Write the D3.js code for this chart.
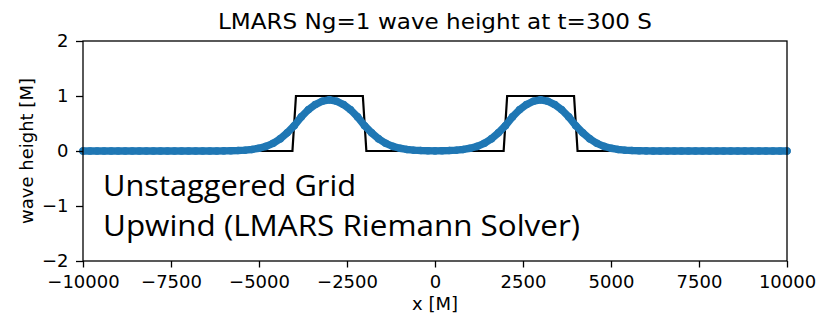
<!DOCTYPE html>
<html><head><meta charset="utf-8">
<script src="https://cdn.jsdelivr.net/npm/d3@7"></script>
<style>body{margin:0;background:#fff;} svg{display:block;}</style>
</head><body>
<svg id="chart" width="821" height="320"></svg>
<script>
// ---- data ----
const titleText = "LMARS Ng=1 wave height at t=300 S";
const xLabel = "x [M]";
const yLabel = "wave height [M]";
const noteLines = ["Unstaggered Grid", "Upwind (LMARS Riemann Solver)"];
const xTicks = [-10000, -7500, -5000, -2500, 0, 2500, 5000, 7500, 10000];
const yTicks = [-2, -1, 0, 1, 2];

// exact solution (black)
const exactX = [-10000, -4050, -3950, -2050, -1950, 1950, 2050, 3950, 4050, 10000];
const exactH = [0, 0, 1, 1, 0, 0, 1, 1, 0, 0];

// numerical solution (blue markers)
const numX = [-10000,-9800,-9600,-9400,-9200,-9000,-8800,-8600,-8400,-8200,
  -8000,-7800,-7600,-7400,-7200,-7000,-6800,-6600,-6400,-6200,
  -6000,-5800,-5600,-5400,-5200,-5000,-4800,-4600,-4400,-4200,
  -4000,-3800,-3600,-3400,-3200,-3000,-2800,-2600,-2400,-2200,
  -2000,-1800,-1600,-1400,-1200,-1000,-800,-600,-400,-200,
  0,200,400,600,800,1000,1200,1400,1600,1800,
  2000,2200,2400,2600,2800,3000,3200,3400,3600,3800,
  4000,4200,4400,4600,4800,5000,5200,5400,5600,5800,
  6000,6200,6400,6600,6800,7000,7200,7400,7600,7800,
  8000,8200,8400,8600,8800,9000,9200,9400,9600,9800,10000];
const numH = [0,0,0,0,0,0,0,0,0,0,
  0,0,0,0,0,0,0,0,0,0.001,
  0.002,0.004,0.008,0.015,0.028,0.05,0.085,0.14,0.22,0.33,
  0.46,0.62,0.75,0.845,0.905,0.93,0.905,0.845,0.75,0.62,
  0.46,0.33,0.22,0.14,0.085,0.05,0.028,0.015,0.008,0.004,
  0.002,0.004,0.008,0.015,0.028,0.05,0.085,0.14,0.22,0.33,
  0.46,0.62,0.75,0.845,0.905,0.93,0.905,0.845,0.75,0.62,
  0.46,0.33,0.22,0.14,0.085,0.05,0.028,0.015,0.008,0.004,
  0.002,0.001,0,0,0,0,0,0,0,0,
  0,0,0,0,0,0,0,0,0,0,0];

// ---- layout ----
const svg = d3.select("#chart");
const L = 83, R = 787, T = 41, B = 261;
const x = d3.scaleLinear().domain([-10000, 10000]).range([L, R]);
const y = d3.scaleLinear().domain([-2, 2]).range([B, T]);
const font = "'DejaVu Sans', sans-serif";

// exact
const exact = exactX.map((v, i) => [v, exactH[i]]);
svg.append("path").datum(exact)
  .attr("d", d3.line().x(d => x(d[0])).y(d => y(d[1])))
  .attr("fill", "none").attr("stroke", "#000").attr("stroke-width", 2.2)
  .attr("stroke-linejoin", "miter");

// numerical
const num = numX.map((v, i) => [v, numH[i]]);
const blue = "#1f77b4";
svg.append("path").datum(num)
  .attr("d", d3.line().x(d => x(d[0])).y(d => y(d[1])))
  .attr("fill", "none").attr("stroke", blue).attr("stroke-width", 7.4)
  .attr("stroke-linejoin", "round").attr("stroke-linecap", "round");
svg.append("g").selectAll("circle").data(num).join("circle")
  .attr("cx", d => x(d[0])).attr("cy", d => y(d[1])).attr("r", 3.8)
  .attr("fill", blue);

// axes
const fmt = d => d < 0 ? "\u2212" + Math.abs(d) : String(d);
const xAxis = d3.axisBottom(x).tickValues(xTicks).tickSize(6.5).tickPadding(7.5).tickFormat(fmt);
const gx = svg.append("g").attr("transform", `translate(0,${B})`).call(xAxis);
const yAxis = d3.axisLeft(y).tickValues(yTicks).tickSize(7).tickPadding(7.5).tickFormat(fmt);
const gy = svg.append("g").attr("transform", `translate(${L},0)`).call(yAxis);
[gx, gy].forEach(g => {
  g.select(".domain").remove();
  g.selectAll("line").attr("stroke", "#000").attr("stroke-width", 1.3);
  g.selectAll("text").attr("font-family", font).attr("font-size", 18).attr("fill", "#000");
});

// frame
svg.append("rect").attr("x", L).attr("y", T).attr("width", R - L).attr("height", B - T)
  .attr("fill", "none").attr("stroke", "#000").attr("stroke-width", 1.3);

// title & labels
svg.append("text").attr("x", (L + R) / 2).attr("y", 29).attr("text-anchor", "middle")
  .attr("font-family", font).attr("font-size", 20.5)
  .attr("textLength", 434).attr("lengthAdjust", "spacingAndGlyphs").text(titleText);
svg.append("text").attr("x", (L + R) / 2).attr("y", 310).attr("text-anchor", "middle")
  .attr("font-family", font).attr("font-size", 18).text(xLabel);
svg.append("text").attr("transform", `translate(33,${(T + B) / 2}) rotate(-90)`)
  .attr("text-anchor", "middle").attr("font-family", font).attr("font-size", 18).text(yLabel);

// annotation
const noteWidths = [253, 477];
svg.append("g").selectAll("text").data(noteLines).join("text")
  .attr("x", 103).attr("y", (d, i) => 196 + i * 40)
  .attr("font-family", "'Open Sans', 'Noto Sans', sans-serif").attr("font-size", 29.5)
  .attr("textLength", (d, i) => noteWidths[i]).attr("lengthAdjust", "spacingAndGlyphs")
  .attr("fill", "#000").text(d => d);
</script>
</body></html>
